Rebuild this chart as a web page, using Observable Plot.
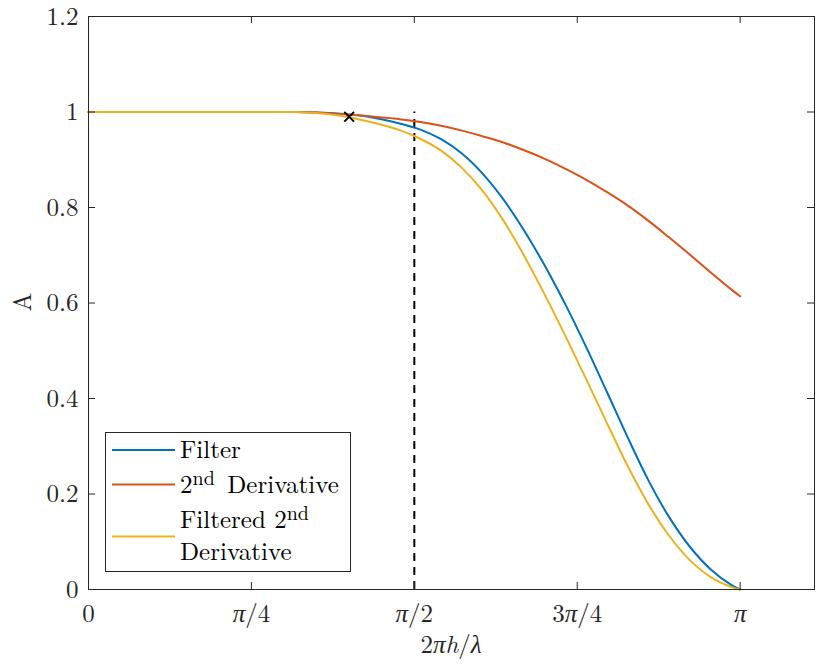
<!DOCTYPE html>
<html><head><meta charset="utf-8">
<script src="https://cdn.jsdelivr.net/npm/d3@7"></script>
<script src="https://cdn.jsdelivr.net/npm/@observablehq/plot@0.6"></script>
<style>
body{margin:0;background:#fff}
#chart{width:817px;height:667px}
#chart svg text, #chart svg tspan{font-family:"Latin Modern Roman","CMU Serif","Liberation Serif","DejaVu Serif","Times New Roman",Times,serif !important}
</style>
</head><body><div id="chart"></div>
<script>
const PI = Math.PI;
// shared x samples (values at these abscissae)
const xSamples = [0, 0.5, 0.8, 0.9, 1.0, 1.1, 1.2, 1.3, 1.4, 1.5, 1.6, 1.7, 1.8, 1.9, 2.0, 2.1, 2.2, 2.3, 2.4, 2.5, 2.6, 2.7, 2.8, 2.9, 3.0, 3.1, PI];
// Filter
const filterY = [1, 1, 1, 1, 1.000, 0.999, 0.997, 0.993, 0.986, 0.976, 0.963, 0.943, 0.913, 0.871, 0.817, 0.752, 0.678, 0.596, 0.507, 0.413, 0.318, 0.228, 0.151, 0.089, 0.042, 0.009, 0];
// 2nd derivative
const derivY = [1, 1, 1, 1, 1.000, 0.999, 0.996, 0.993, 0.989, 0.985, 0.979, 0.971, 0.961, 0.949, 0.936, 0.920, 0.902, 0.881, 0.858, 0.832, 0.804, 0.772, 0.737, 0.701, 0.664, 0.628, 0.614];
// Filtered 2nd derivative
const filtDerivY = [1, 1, 1, 1, 1.000, 0.998, 0.993, 0.985, 0.975, 0.962, 0.944, 0.919, 0.883, 0.835, 0.773, 0.699, 0.617, 0.530, 0.440, 0.348, 0.258, 0.178, 0.112, 0.061, 0.026, 0.005, 0];

const seriesNames = ["Filter", "2nd Derivative", "Filtered 2nd Derivative"];
const seriesColors = ["#0072BD", "#D95319", "#EDB120"];

const xDomain = [0, 3.5];
const yDomain = [0, 1.2];
const xTickValues = [0, PI/4, PI/2, 3*PI/4, PI];
const xTickLabels = ["0", "π/4", "π/2", "3π/4", "π"];
const yTickValues = [0, 0.2, 0.4, 0.6, 0.8, 1, 1.2];
const yTickLabels = ["0", "0.2", "0.4", "0.6", "0.8", "1", "1.2"];

const cutoffX = [PI/2];
const cutoffY = [0, 1];
const markerX = [0.4*PI];
const markerY = [0.99];

const rows = [];
[filterY, derivY, filtDerivY].forEach((ys, i) =>
  xSamples.forEach((x, j) => rows.push({series: seriesNames[i], x, y: ys[j]})));
const markers = markerX.map((x, i) => ({x, y: markerY[i]}));

const font = "Latin Modern Roman, CMU Serif, Liberation Serif, DejaVu Serif, serif";
const axisColor = "#262626";

const plot = Plot.plot({
  width: 817, height: 667,
  marginLeft: 88, marginRight: 3, marginTop: 16, marginBottom: 78,
  style: {fontFamily: font, fontSize: "25px", background: "white", color: axisColor},
  x: {domain: xDomain},
  y: {domain: yDomain},
  color: {domain: seriesNames, range: seriesColors},
  marks: [
    Plot.ruleX(cutoffX, {x: d => d, y1: cutoffY[0], y2: cutoffY[1], stroke: "black", strokeWidth: 2, strokeDasharray: "8,6"}),
    Plot.line(rows, {x: "x", y: "y", z: "series", stroke: "series", strokeWidth: 2, curve: "catmull-rom"}),
    Plot.dot(markers, {x: "x", y: "y", symbol: "times", r: 4.5, stroke: "black", strokeWidth: 2}),
    // inward ticks on all four sides
    Plot.ruleX(xTickValues, {x: d => d, y1: yDomain[0], y2: yDomain[0], insetTop: -7, stroke: axisColor}),
    Plot.ruleX(xTickValues, {x: d => d, y1: yDomain[1], y2: yDomain[1], insetBottom: -7, stroke: axisColor}),
    Plot.ruleY(yTickValues, {y: d => d, x1: xDomain[0], x2: xDomain[0], insetRight: -7, stroke: axisColor}),
    Plot.ruleY(yTickValues, {y: d => d, x1: xDomain[1], x2: xDomain[1], insetLeft: -7, stroke: axisColor}),
    Plot.frame({stroke: axisColor, strokeWidth: 1}),
    Plot.axisX({ticks: xTickValues, tickSize: 0, tickPadding: 15, label: null,
      tickFormat: d => xTickLabels[xTickValues.indexOf(d)]}),
    Plot.axisY({ticks: yTickValues, tickSize: 0, tickPadding: 10, label: null,
      tickFormat: d => yTickLabels[yTickValues.indexOf(d)]})
  ]
});
document.getElementById("chart").appendChild(plot);

const svg = d3.select(plot);
// italic pi in tick labels
svg.selectAll("text").each(function() {
  const t = this.textContent;
  if (t.includes("π") && this.childElementCount === 0) {
    const el = d3.select(this);
    el.text(null);
    t.split(/(π)/).filter(s => s !== "").forEach(s => {
      const ts = el.append("tspan").text(s);
      if (s === "π") ts.attr("font-style", "italic");
    });
  }
});

// axis labels
const xl = svg.append("text").attr("x", 451).attr("y", 653).attr("text-anchor", "middle")
  .attr("font-size", 25).attr("fill", axisColor);
xl.append("tspan").text("2");
xl.append("tspan").attr("font-style", "italic").text("πh");
xl.append("tspan").text("/");
xl.append("tspan").attr("font-style", "italic").text("λ");
svg.append("text").attr("transform", "translate(31,302) rotate(-90)").attr("text-anchor", "middle")
  .attr("font-size", 25).attr("fill", axisColor).text("A");

// legend
const lg = svg.append("g").attr("font-size", 25).attr("fill", "black").attr("text-anchor", "start");
lg.append("rect").attr("x", 105.5).attr("y", 432.5).attr("width", 245).attr("height", 139)
  .attr("fill", "white").attr("stroke", axisColor).attr("stroke-width", 1);
const swY = [450, 484.5, 536.5];
swY.forEach((y, i) => lg.append("line").attr("x1", 112).attr("x2", 175).attr("y1", y).attr("y2", y)
  .attr("stroke", seriesColors[i]).attr("stroke-width", 2));
function sup(x, y, base, supText, rest) {
  const tx = lg.append("text").attr("x", x).attr("y", y);
  tx.append("tspan").text(base);
  tx.append("tspan").attr("dy", -8).attr("font-size", 20).text(supText);
  if (rest) tx.append("tspan").attr("dy", 8).text(rest);
}
lg.append("text").attr("x", 180).attr("y", 457.5).text("Filter");
sup(180, 493, "2", "nd", "\u00a0Derivative");
sup(180, 528, "Filtered 2", "nd", null);
lg.append("text").attr("x", 180).attr("y", 560).text("Derivative");
</script></body></html>
